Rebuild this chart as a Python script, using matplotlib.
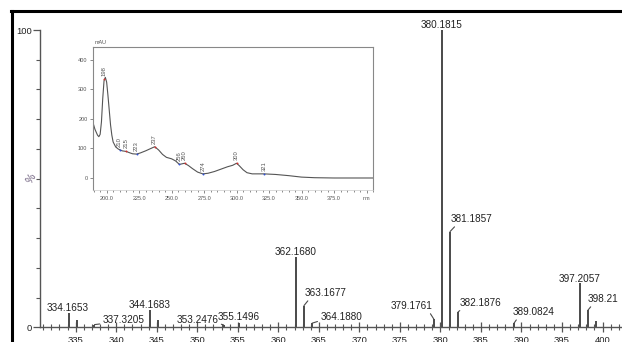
import matplotlib
matplotlib.use("Agg")
import matplotlib.pyplot as plt
from matplotlib.lines import Line2D
from matplotlib.ticker import MultipleLocator

plt.rcParams['font.family'] = ['Liberation Sans', 'DejaVu Sans']

# mass spectrum peaks: m/z and relative intensity (%)
mz = [334.1653, 335.17, 337.3205, 344.1683, 345.17, 353.2476, 355.1496,
      362.1680, 363.1677, 364.1880, 379.1761, 380.1815, 381.1857, 382.1876,
      389.0824, 397.2057, 398.21, 399.2]
intensity = [4.9, 2.5, 0.9, 5.8, 2.5, 0.8, 1.4,
             23.6, 7.3, 1.4, 2.8, 100.0, 32.2, 5.2,
             1.4, 14.9, 5.8, 2.1]
peak_labels = ['334.1653', '', '337.3205', '344.1683', '', '353.2476', '355.1496',
               '362.1680', '363.1677', '364.1880', '379.1761', '380.1815', '381.1857',
               '382.1876', '389.0824', '397.2057', '398.21', '']

# UV trace of the peak (wavelength nm, absorbance mAU)
uv_nm = [190, 191, 193, 194, 195, 196, 197, 198, 199, 200, 201, 202, 203, 204,
         205, 207, 209, 210, 212, 215, 218, 220, 223, 226, 230, 234, 237, 240,
         243, 246, 250, 253, 256, 258, 260, 263, 266, 270, 274, 278, 283, 288,
         293, 297, 300, 302, 305, 308, 312, 316, 321, 330, 340, 350, 360, 375, 405]
uv_mau = [180, 165, 145, 140, 148, 190, 270, 330, 341, 325, 280, 230, 180, 145,
          122, 105, 98, 96, 92, 90, 85, 82, 81, 85, 92, 100, 106, 95,
          80, 70, 65, 58, 46, 48, 50, 42, 32, 20, 14, 16, 22, 30,
          38, 43, 50, 42, 28, 18, 14, 14, 14, 12, 8, 3, 1, 0, 0]
uv_peak_nm = [198, 210, 215, 223, 237, 256, 260, 274, 300, 321]
uv_peak_mau = [335, 96, 90, 81, 106, 46, 50, 14, 50, 14]
uv_peak_kind = ['max', 'min', 'max', 'min', 'max', 'min', 'max', 'min', 'max', 'min']

# label placement: dx, dy in pixels from the peak top, alignment, leader end (x of text box)
label_pos = {
    '334.1653': (-1, 2, 'center', None), '337.3205': (8, 1.5, 'left', 0.0),
    '344.1683': (0, 2, 'center', None), '353.2476': (-5, 2, 'right', 1.0),
    '355.1496': (0, 3, 'center', None), '362.1680': (0, 2, 'center', None),
    '363.1677': (1, 9.5, 'left', 0.15), '364.1880': (8, 3, 'left', 0.0),
    '379.1761': (-1, 10, 'right', 0.88), '380.1815': (0, 1.5, 'center', None),
    '381.1857': (1, 9.5, 'left', 0.18), '382.1876': (1, 6, 'left', 0.15),
    '389.0824': (-1, 8, 'left', 0.15), '397.2057': (0, 1.5, 'center', None),
    '398.21': (0, 8, 'left', 0.2),
}

W, H = 622, 342
fig = plt.figure(figsize=(W / 100, H / 100), dpi=100)

# black frame along the top and left edge
fig.add_artist(Line2D([11 / W, 1], [1 - 10.5 / H] * 2, color='black', lw=2.2))
fig.add_artist(Line2D([11.5 / W] * 2, [0, 1 - 10.5 / H], color='black', lw=2.2))

axis_col = '#555555'
ax = fig.add_axes([40 / W, 14.7 / H, (W - 40) / W, (327.3 - 30) / H])
ax.set_xlim(330.6, 402.4)
ax.set_ylim(0, 100)
ax.vlines(mz, 0, intensity, color='#4a4a4a', lw=1.4)

for x, y, lab in zip(mz, intensity, peak_labels):
    if not lab:
        continue
    dx, dy, ha, rx = label_pos[lab]
    arrow = None
    if rx is not None:
        arrow = dict(arrowstyle='-', color='#4a4a4a', lw=0.8, shrinkA=0, shrinkB=0,
                     relpos=(rx, 0.15))
    ax.annotate(lab, xy=(x, y), xytext=(dx, dy), textcoords='offset pixels',
                ha=ha, va='baseline', fontsize=7.2, color='#222222',
                annotation_clip=False, arrowprops=arrow)

for s in ['top', 'right']:
    ax.spines[s].set_visible(False)
for s in ['left', 'bottom']:
    ax.spines[s].set_color(axis_col)
    ax.spines[s].set_linewidth(1.0)

ax.set_xticks(range(335, 401, 5))
ax.xaxis.set_minor_locator(MultipleLocator(1))
ax.tick_params(axis='x', which='major', direction='inout', length=7, width=0.9,
               color=axis_col, labelsize=6.8, pad=2.5, labelcolor='#222222')
ax.tick_params(axis='x', which='minor', direction='inout', length=5, width=0.8,
               color=axis_col)
ax.set_yticks([0, 100])
ax.yaxis.set_minor_locator(MultipleLocator(10))
ax.tick_params(axis='y', which='major', direction='out', length=5, width=0.9,
               color=axis_col, labelsize=6.8, pad=1, labelcolor='#222222')
ax.tick_params(axis='y', which='minor', direction='out', length=3, width=0.8,
               color=axis_col)
ax.annotate('%', xy=(330.6, 50), xytext=(-9, 0), textcoords='offset pixels',
            ha='center', va='center', rotation=60, fontsize=7.5, color='#6a5a7a',
            annotation_clip=False)

# UV spectrum inset
ins = fig.add_axes([93 / W, 1 - 190 / H, 280 / W, (190 - 46.7) / H])
ins.set_xlim(189.5, 405)
ins.set_ylim(-40.7, 445)
ins.plot(uv_nm, uv_mau, color='#555555', lw=0.8)
for n, a, k in zip(uv_peak_nm, uv_peak_mau, uv_peak_kind):
    ins.plot(n, a, 'o', ms=1.4, mew=0, color='#d03030' if k == 'max' else '#3050d0')
    ins.annotate(str(n), xy=(n, a), xytext=(0, 3), textcoords='offset pixels',
                 ha='center', va='bottom', rotation=90, fontsize=4.2,
                 color='#555555')
ins.set_xticks([200, 225, 250, 275, 300, 325, 350, 375, 400])
ins.set_xticklabels(['200.0', '225.0', '250.0', '275.0', '300.0', '325.0',
                     '350.0', '375.0', 'nm'])
ins.xaxis.set_minor_locator(MultipleLocator(5))
ins.set_yticks([0, 100, 200, 300, 400])
ins.tick_params(axis='both', which='both', direction='out', color='#777777',
                labelsize=4, labelcolor='#555555', width=0.6, pad=1.5)
ins.tick_params(axis='both', which='major', length=2.5)
ins.tick_params(axis='x', which='minor', length=1.5)
for s in ['top', 'right', 'left']:
    ins.spines[s].set_color('#888888')
    ins.spines[s].set_linewidth(0.8)
ins.spines['bottom'].set_color('#cccccc')
ins.spines['bottom'].set_linewidth(0.5)
ins.text(0.005, 1.01, 'mAU', transform=ins.transAxes, ha='left', va='bottom',
         fontsize=4, color='#555555')

fig.savefig('out.png', dpi=100)
